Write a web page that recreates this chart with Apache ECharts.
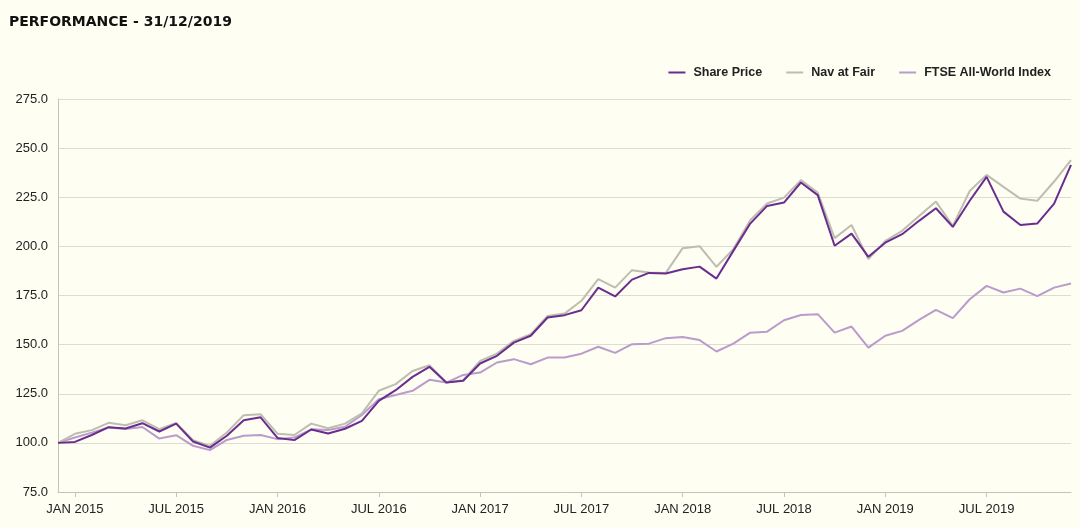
<!DOCTYPE html>
<html>
<head>
<meta charset="utf-8">
<script src="https://cdn.jsdelivr.net/npm/echarts@6/dist/echarts.min.js"></script>
<style>
html,body{margin:0;padding:0;background:#fefef2;}
#chart{width:1080px;height:528px;}
</style>
</head>
<body>
<div id="chart"></div>
<script>
const months = [
 "DEC 2014",
 "JAN 2015","FEB 2015","MAR 2015","APR 2015","MAY 2015","JUN 2015","JUL 2015","AUG 2015","SEP 2015","OCT 2015","NOV 2015","DEC 2015",
 "JAN 2016","FEB 2016","MAR 2016","APR 2016","MAY 2016","JUN 2016","JUL 2016","AUG 2016","SEP 2016","OCT 2016","NOV 2016","DEC 2016",
 "JAN 2017","FEB 2017","MAR 2017","APR 2017","MAY 2017","JUN 2017","JUL 2017","AUG 2017","SEP 2017","OCT 2017","NOV 2017","DEC 2017",
 "JAN 2018","FEB 2018","MAR 2018","APR 2018","MAY 2018","JUN 2018","JUL 2018","AUG 2018","SEP 2018","OCT 2018","NOV 2018","DEC 2018",
 "JAN 2019","FEB 2019","MAR 2019","APR 2019","MAY 2019","JUN 2019","JUL 2019","AUG 2019","SEP 2019","OCT 2019","NOV 2019","DEC 2019"
];
const sharePrice = [
 100,
 100.5,104,108,107.3,110,105.8,109.8,100.7,97.6,103.6,111.5,113,
 102.5,101.4,106.8,104.8,107.2,111.2,121.4,126.8,133.6,138.7,130.7,
 131.6,140.4,144.3,151,154.5,163.8,165,167.5,179,174.5,183.1,186.5,
 186.2,188.4,189.7,183.6,197.7,211.6,220.6,222.3,232.5,226.1,200.3,206.5,
 194.7,201.9,206.2,213,219.4,209.9,223.2,235.4,217.7,210.9,211.6,221.8,241.5
];
const navAtFair = [
 100,
 104.6,106.5,110.2,109,111.5,107,110.2,101.4,98.5,105.3,114.1,114.6,
 104.7,104,109.8,107.4,109.8,115,126.5,129.9,136.6,139.5,130.7,
 131.9,141.7,145.4,151.9,155.3,164.6,165.8,172.3,183.3,179,187.9,186.7,
 186.5,199.1,200.1,189.6,198.6,213.3,221.8,224.8,233.7,227.4,204.2,210.9,
 193.5,202.8,207.9,215.5,222.8,210.4,228.2,236.4,230.3,224.3,223.2,233,243.9
];
const ftseAllWorld = [
 100,
 102.7,105.2,107.8,107,108.1,102.2,103.9,98.5,96.3,101.5,103.6,104,
 101.9,102.7,106.9,106.5,108.2,114.2,122.2,124.4,126.5,132.1,130.7,
 134.6,135.8,140.9,142.6,140,143.4,143.4,145.4,148.9,145.8,150.2,150.5,
 153.3,153.9,152.3,146.5,150.5,156.1,156.6,162.4,165.1,165.5,156.1,159.2,
 148.5,154.5,157,162.6,167.7,163.5,173.1,179.9,176.5,178.5,174.7,179,181.1
];
const yTicks = {min: 75, max: 275, interval: 25};

const chart = echarts.init(document.getElementById('chart'), null, {renderer: 'canvas'});
const showIdx = (i) => (i - 1) % 6 === 0;
const font = 'Liberation Sans, Arial, sans-serif';
chart.setOption({
  backgroundColor: '#fefef2',
  animation: false,
  title: {
    text: 'PERFORMANCE - 31/12/2019',
    left: 4, top: 10,
    textStyle: {fontFamily: 'DejaVu Sans', fontWeight: 'bold', fontSize: 14, color: '#111'}
  },
  legend: {
    right: 24, top: 61,
    itemWidth: 17, itemHeight: 2, itemGap: 24,
    icon: 'rect',
    data: ['Share Price', 'Nav at Fair', 'FTSE All-World Index'],
    textStyle: {fontFamily: font, fontWeight: 'bold', fontSize: 12.5, color: '#222', padding: [0,0,0,3]}
  },
  grid: {left: 58, right: 9, top: 99, bottom: 36},
  xAxis: {
    type: 'category',
    data: months,
    boundaryGap: false,
    axisLine: {lineStyle: {color: '#c4c4b8', width: 1}},
    axisTick: {interval: (i) => showIdx(i), length: 5, lineStyle: {color: '#c4c4b8'}},
    axisLabel: {interval: (i) => showIdx(i), fontFamily: font, fontSize: 13, color: '#222', margin: 11},
    splitLine: {show: false}
  },
  yAxis: {
    type: 'value',
    min: yTicks.min, max: yTicks.max, interval: yTicks.interval,
    axisLine: {show: true, lineStyle: {color: '#c4c4b8'}},
    axisTick: {show: false},
    axisLabel: {formatter: (v) => v.toFixed(1), fontFamily: font, fontSize: 13, color: '#222', margin: 10},
    splitLine: {lineStyle: {color: '#dcdcd0', width: 1}}
  },
  series: [
    {name: 'FTSE All-World Index', type: 'line', data: ftseAllWorld, symbol: 'none', z: 2,
     lineStyle: {color: '#b99ccb', width: 2}, itemStyle: {color: '#b99ccb'}},
    {name: 'Nav at Fair', type: 'line', data: navAtFair, symbol: 'none', z: 3,
     lineStyle: {color: '#bdbdb0', width: 2}, itemStyle: {color: '#bdbdb0'}},
    {name: 'Share Price', type: 'line', data: sharePrice, symbol: 'none', z: 4,
     lineStyle: {color: '#6a2d8f', width: 2}, itemStyle: {color: '#6a2d8f'}}
  ]
});
</script>
</body>
</html>
